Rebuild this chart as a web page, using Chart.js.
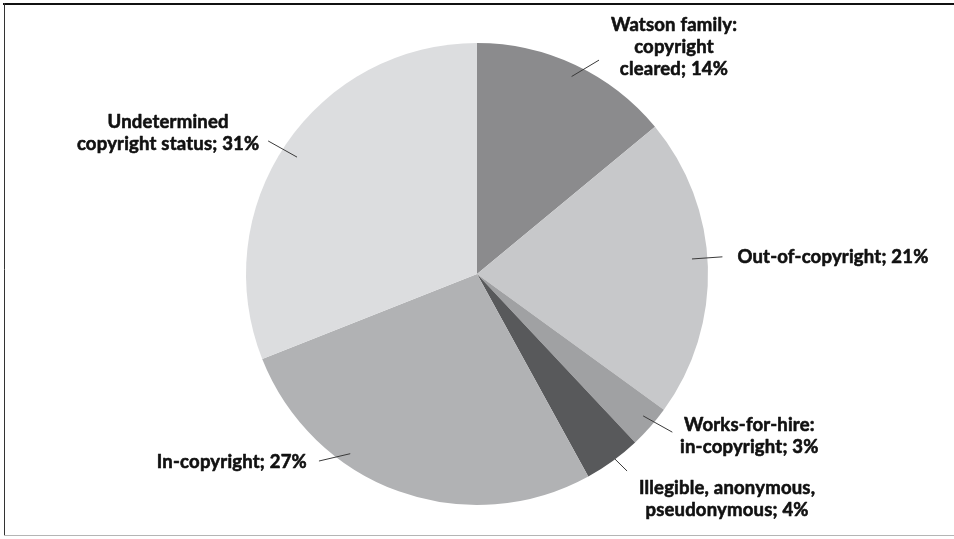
<!DOCTYPE html>
<html>
<head>
<meta charset="utf-8">
<script src="https://cdn.jsdelivr.net/npm/chart.js@4"></script>
<style>
  html, body { margin: 0; padding: 0; background: #fff; }
  #wrap { position: relative; width: 954px; height: 539px; }
  canvas { display: block; }
</style>
</head>
<body>
<div id="wrap"><canvas id="c" width="954" height="539"></canvas></div>
<script>
// ---- data ----
const categories = [
  "Watson family: copyright cleared",
  "Out-of-copyright",
  "Works-for-hire: in-copyright",
  "Illegible, anonymous, pseudonymous",
  "In-copyright",
  "Undetermined copyright status"
];
const shares = [14, 21, 3, 4, 27, 31];
const labelLines = [
  ["Watson family:", "copyright", "cleared; 14%"],
  ["Out-of-copyright; 21%"],
  ["Works-for-hire:", "in-copyright; 3%"],
  ["Illegible, anonymous,", "pseudonymous; 4%"],
  ["In-copyright; 27%"],
  ["Undetermined", "copyright status; 31%"]
];
const sliceColors = ["#8b8b8d", "#c7c8ca", "#a0a1a3", "#58595b", "#b1b2b4", "#dcdddf"];

// ---- label layout (angle offset from slice middle in deg, radius factors, text offset from line end) ----
const labelLayout = [
  { dAng: 0.4,  r0: 0.948, aEnd: 29.7,  r1: 1.066, align: "center", dx: 75,  dy: -35 },
  { dAng: -2.2, r0: 0.933, aEnd: 86.0,  r1: 1.065, align: "left",   dx: 15,  dy: 0 },
  { dAng: -0.9, r0: 0.946, aEnd: 129.0, r1: 1.088, align: "center", dx: 77,  dy: -7 },
  { dAng: -0.7, r0: 0.999, aEnd: 142.7, r1: 1.072, align: "center", dx: 100, dy: 17 },
  { dAng: 15.4, r0: 0.952, aEnd: 220.2, r1: 1.06,  align: "right",  dx: -12, dy: 1 },
  { dAng: -1.2, r0: 0.929, aEnd: 302.5, r1: 1.072, align: "center", dx: -100, dy: -19 }
];
const FONT = "bold 18.5px Lato, 'Open Sans', sans-serif";
const LINE_H = 22;

const framePlugin = {
  id: "frame",
  beforeDraw(chart) {
    const ctx = chart.ctx;
    ctx.save();
    ctx.fillStyle = "#fff";
    ctx.fillRect(0, 0, chart.width, chart.height);
    ctx.strokeStyle = "#111";
    ctx.lineWidth = 2;
    ctx.beginPath(); ctx.moveTo(3, 4); ctx.lineTo(954, 4); ctx.stroke();
    ctx.lineWidth = 1;
    ctx.strokeStyle = "#333";
    ctx.beginPath(); ctx.moveTo(4.5, 3); ctx.lineTo(4.5, 536); ctx.stroke();
    ctx.strokeStyle = "#b5b5b5";
    ctx.beginPath(); ctx.moveTo(4, 535.5); ctx.lineTo(954, 535.5); ctx.stroke();
    ctx.restore();
  }
};

const labelPlugin = {
  id: "pieLabels",
  afterDatasetsDraw(chart) {
    const ctx = chart.ctx;
    const meta = chart.getDatasetMeta(0);
    ctx.save();
    meta.data.forEach((arc, i) => {
      const p = arc.getProps(["x", "y", "startAngle", "endAngle", "outerRadius"], true);
      const L = labelLayout[i];
      const mid = (p.startAngle + p.endAngle) / 2 + L.dAng * Math.PI / 180;
      const sx = p.x + Math.cos(mid) * p.outerRadius * L.r0;
      const sy = p.y + Math.sin(mid) * p.outerRadius * L.r0;
      const ea = (L.aEnd - 90) * Math.PI / 180;
      const ex = p.x + Math.cos(ea) * p.outerRadius * L.r1;
      const ey = p.y + Math.sin(ea) * p.outerRadius * L.r1;
      ctx.strokeStyle = "#3a3a3a";
      ctx.lineWidth = 1;
      ctx.beginPath(); ctx.moveTo(sx, sy); ctx.lineTo(ex, ey); ctx.stroke();
      ctx.fillStyle = "#111";
      ctx.strokeStyle = "#111";
      ctx.lineWidth = 0.6;
      ctx.lineJoin = "round";
      ctx.font = FONT;
      if ("letterSpacing" in ctx) ctx.letterSpacing = "0.2px";
      ctx.textAlign = L.align;
      ctx.textBaseline = "middle";
      labelLines[i].forEach((t, k) => {
        const tx = ex + L.dx, ty = ey + L.dy + k * LINE_H;
        ctx.fillText(t, tx, ty);
        ctx.strokeText(t, tx, ty);
      });
      if ("letterSpacing" in ctx) ctx.letterSpacing = "0px";
    });
    ctx.restore();
  }
};

new Chart(document.getElementById("c"), {
  type: "pie",
  data: {
    labels: categories,
    datasets: [{
      data: shares,
      backgroundColor: sliceColors,
      borderWidth: 0
    }]
  },
  options: {
    responsive: false,
    animation: false,
    layout: { padding: { top: 43, bottom: 34, left: 246, right: 246 } },
    plugins: {
      legend: { display: false },
      tooltip: { enabled: false }
    }
  },
  plugins: [framePlugin, labelPlugin]
});
</script>
</body>
</html>
